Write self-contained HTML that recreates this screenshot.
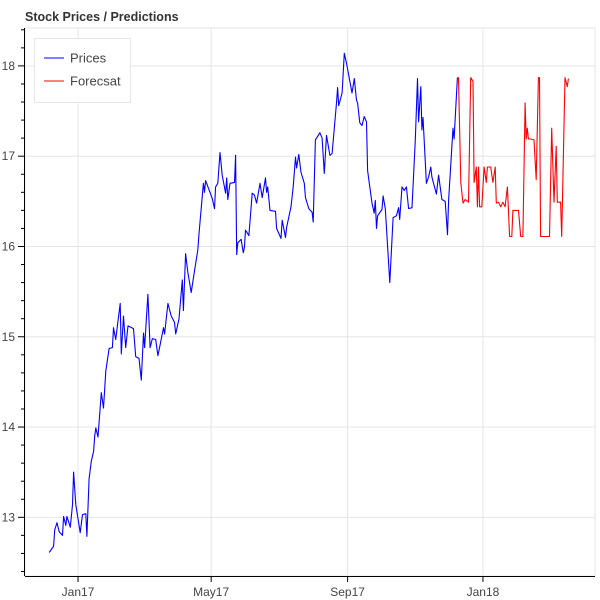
<!DOCTYPE html>
<html><head><meta charset="utf-8">
<style>
body{margin:0;background:#fff;}
svg{display:block;font-family:"Liberation Sans",Helvetica,Arial,sans-serif;}
</style></head>
<body>
<svg id="chart" width="600" height="600" viewBox="0 0 600 600">
<text x="25" y="21" font-size="12.5" font-weight="bold" fill="#333">Stock Prices / Predictions</text>
<g id="grid"></g>
<g id="axes"></g>
<g id="series"></g>
<g>
<rect x="34.5" y="38.5" width="96" height="64" fill="#fff" stroke="#e5e5e5"/>
<line x1="44" y1="58" x2="64" y2="58" stroke="#0000ff" stroke-width="1"/>
<text x="70" y="62.5" font-size="13" fill="#444">Prices</text>
<line x1="44" y1="81" x2="64" y2="81" stroke="#ff0000" stroke-width="1"/>
<text x="70" y="85.5" font-size="13" fill="#444">Forecsat</text>
</g>
</svg>
<script>
// days since 2017-01-01
const priceDays = [-26,-22,-21,-19,-17,-14,-13,-11,-10,-7,-5,-4,-2,2,4,7,8,10,12,14,15,16,18,21,23,25,28,31,32,34,38,39,41,43,45,50,52,55,57,59,60,63,65,67,70,72,74,77,78,81,84,87,88,91,94,95,97,99,102,105,108,109,113,114,115,121,123,124,126,128,130,133,134,135,137,141,142,143,144,147,149,150,151,154,157,159,161,164,166,169,170,171,173,178,179,183,184,187,188,192,194,196,197,199,201,204,205,208,211,212,214,218,220,222,224,227,229,233,234,235,238,240,242,247,249,251,252,254,256,258,260,261,263,265,267,268,269,270,274,275,277,281,284,287,289,290,292,294,296,298,301,304,306,307,309,310,311,314,316,318,319,323,325,328,331,333,334,338,339,342];
const priceValues = [12.61,12.68,12.86,12.94,12.84,12.80,13.01,12.91,13.01,12.89,13.14,13.50,13.14,12.83,13.03,13.04,12.79,13.43,13.62,13.73,13.90,13.99,13.89,14.38,14.21,14.62,14.87,14.88,15.10,14.97,15.37,14.81,15.23,14.88,15.12,15.09,14.78,14.76,14.52,15.04,14.88,15.47,14.88,14.98,14.97,14.79,14.91,15.10,15.03,15.37,15.23,15.16,15.03,15.20,15.63,15.29,15.92,15.71,15.49,15.73,15.96,16.14,16.70,16.60,16.73,16.53,16.42,16.66,16.70,17.04,16.79,16.59,16.76,16.52,16.70,16.71,17.01,15.91,16.04,16.08,15.93,15.99,16.18,16.12,16.59,16.57,16.48,16.70,16.54,16.76,16.60,16.66,16.40,16.39,16.20,16.09,16.29,16.10,16.21,16.44,16.66,16.99,16.87,17.02,16.82,16.70,16.54,16.42,16.38,16.27,17.18,17.26,17.20,16.81,17.23,17.01,17.03,17.59,17.76,17.56,17.70,18.14,18.03,17.70,17.86,17.62,17.59,17.37,17.34,17.44,17.38,16.84,16.66,16.48,16.37,16.51,16.20,16.34,16.41,16.56,16.42,15.60,16.32,16.34,16.43,16.30,16.66,16.62,16.66,16.42,16.43,17.18,17.86,17.38,17.77,17.29,17.43,16.70,16.77,16.88,16.77,16.58,16.79,16.52,16.50,16.13,16.51,17.31,17.19,17.87];
const forecastDays = [342,343,345,347,349,352,354,356,357,359,360,361,362,364,366,368,369,372,374,376,377,379,381,383,385,387,389,391,392,397,399,401,403,404,405,406,408,411,413,415,416,417,425,427,429,431,432,435,436,439,441,442];
const forecastValues = [17.87,17.87,16.71,16.48,16.52,16.49,17.87,17.83,16.71,16.88,16.44,16.88,16.44,16.44,16.88,16.71,16.88,16.88,16.71,16.88,16.48,16.49,16.44,16.49,16.44,16.66,16.11,16.11,16.40,16.40,16.11,16.11,17.59,17.19,17.31,17.19,17.19,17.18,16.74,17.87,17.87,16.11,16.11,17.31,16.49,17.11,16.49,16.49,16.11,17.87,17.77,17.86];
const yTicks = [13,14,15,16,17,18];
const xTickDays = [0,120,243,365];
const xTickLabels = ["Jan17","May17","Sep17","Jan18"];

const NS="http://www.w3.org/2000/svg";
const L=25,R=595,T=28,B=576;
const xMin=-47.8,xMax=466,yMin=12.35,yMax=18.42;
function xs(d){return L+(d-xMin)/(xMax-xMin)*(R-L);}
function ys(v){return B-(v-yMin)/(yMax-yMin)*(B-T);}
function mk(tag,attrs,parent){const e=document.createElementNS(NS,tag);for(const k in attrs)e.setAttribute(k,attrs[k]);parent.appendChild(e);return e;}
const grid=document.getElementById('grid'),axes=document.getElementById('axes'),series=document.getElementById('series');

const frame=mk('rect',{x:L,y:T,width:R-L,height:B-T,fill:'none',stroke:'#e5e5e5'},grid);



yTicks.forEach(v=>{
  const y=ys(v);
  const g=mk('line',{x1:L,x2:R,y1:y,y2:y,stroke:'#e5e5e5'},grid);
  
  
  const t=mk('line',{x1:L-7,x2:L,y1:y,y2:y,stroke:'#000'},axes);
  
  
  const lab=mk('text',{x:L-10,y:y+4,'text-anchor':'end','font-size':'12',fill:'#444'},axes);
  lab.textContent=String(v);
  
  
});
for(let v=12.4;v<=18.41;v+=0.2){
  if(Math.abs(v-Math.round(v))<0.01)continue;
  const y=ys(v);
  const t=mk('line',{x1:L-4,x2:L,y1:y,y2:y,stroke:'#000'},axes);
  
  
}
xTickDays.forEach((d,i)=>{
  const x=xs(d);
  const g=mk('line',{x1:x,x2:x,y1:T,y2:B,stroke:'#e5e5e5'},grid);
  
  
  const t=mk('line',{x1:x,x2:x,y1:B,y2:B+6,stroke:'#000'},axes);
  
  
  const lab=mk('text',{x:x,y:B+20,'text-anchor':'middle','font-size':'12',fill:'#444'},axes);
  lab.textContent=xTickLabels[i];
  
  
});
const ya=mk('line',{x1:L-0.5,x2:L-0.5,y1:T,y2:B,stroke:'#000'},axes);


const xa=mk('line',{x1:L,x2:R,y1:B+0.5,y2:B+0.5,stroke:'#000'},axes);



function path(days,vals){return days.map((d,i)=>(i?'L':'M')+xs(d).toFixed(1)+','+ys(vals[i]).toFixed(1)).join('');}
const p1=mk('path',{d:path(priceDays,priceValues),fill:'none',stroke:'#0000ff','stroke-width':'1.1','stroke-linejoin':'round'},series);


const p2=mk('path',{d:path(forecastDays,forecastValues),fill:'none',stroke:'#ff0000','stroke-width':'1.1','stroke-linejoin':'round'},series);


</script>
</body></html>
